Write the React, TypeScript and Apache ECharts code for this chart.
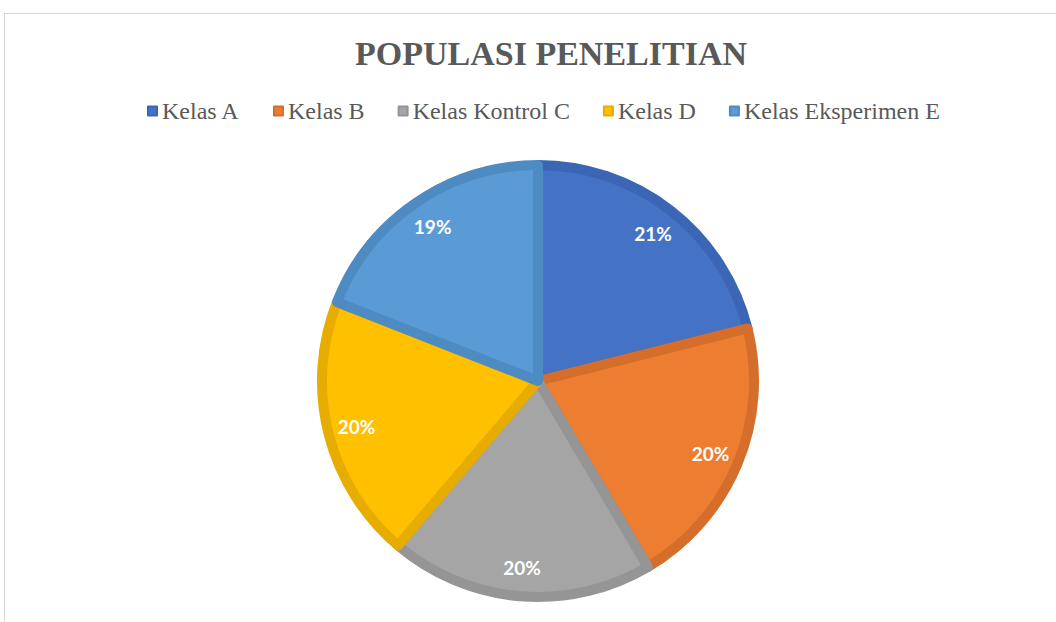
import React, { useEffect, useRef } from "react";
import * as echarts from "echarts";

const categories = ["Kelas A", "Kelas B", "Kelas Kontrol C", "Kelas D", "Kelas Eksperimen E"];
const values = [31, 30, 29, 29, 28];
const fillColors = ["#4472C4", "#ED7D31", "#A5A5A5", "#FFC000", "#5B9BD5"];
const borderColors = ["#3A66B5", "#D46E2A", "#959595", "#E6AD00", "#4E8BC3"];
const titleText = "POPULASI PENELITIAN";

export default function App() {
  const ref = useRef<HTMLDivElement>(null);
  useEffect(() => {
    document.body.style.margin = "0";
    if (!ref.current) return;
    const chart = echarts.init(ref.current, null, { renderer: "svg" });
    const pieData = categories.map((name, i) => ({
      name,
      value: values[i],
      itemStyle: { color: fillColors[i], borderColor: borderColors[i] },
    }));
    const labelData = categories.map((name, i) => ({
      name,
      value: values[i],
    }));
    chart.setOption({
      animation: false,
      backgroundColor: "#ffffff",
      title: {
        text: titleText,
        left: 355,
        top: 36,
        padding: 0,
        textStyle: {
          fontFamily: "Liberation Serif",
          fontWeight: "bold",
          fontSize: 34,
          color: "#595959",
        },
      },
      legend: {
        data: categories,
        left: 147,
        top: 99,
        padding: 0,
        icon: "rect",
        itemWidth: 9,
        itemHeight: 9,
        itemGap: 33,
        textStyle: {
          fontFamily: "Liberation Serif",
          fontSize: 24,
          color: "#595959",
        },
      },
      graphic: [
        {
          type: "line",
          shape: { x1: 4, y1: 13.5, x2: 1056, y2: 13.5 },
          style: { stroke: "#d9d9d9", lineWidth: 1 },
          silent: true,
        },
        {
          type: "line",
          shape: { x1: 4.5, y1: 13, x2: 4.5, y2: 622 },
          style: { stroke: "#d9d9d9", lineWidth: 1 },
          silent: true,
        },
      ],
      series: [
        {
          type: "pie",
          center: [538, 381],
          radius: [0, 216],
          startAngle: 90,
          clockwise: true,
          avoidLabelOverlap: false,
          label: { show: false },
          labelLine: { show: false },
          itemStyle: { borderWidth: 10 },
          emphasis: { disabled: true },
          data: pieData,
        },
        {
          type: "pie",
          center: [538, 381],
          radius: [152, 216],
          startAngle: 90,
          clockwise: true,
          silent: true,
          avoidLabelOverlap: false,
          itemStyle: { color: "rgba(0,0,0,0)" },
          label: {
            show: true,
            position: "inside",
            formatter: (p: any) => Math.round(p.percent) + "%",
            color: "#ffffff",
            fontFamily: "Lato",
            fontWeight: "bold",
            fontSize: 19,
          },
          labelLine: { show: false },
          emphasis: { disabled: true },
          data: labelData,
        },
      ],
    });
    return () => chart.dispose();
  }, []);
  return <div ref={ref} style={{ width: 1056, height: 622 }} />;
}
